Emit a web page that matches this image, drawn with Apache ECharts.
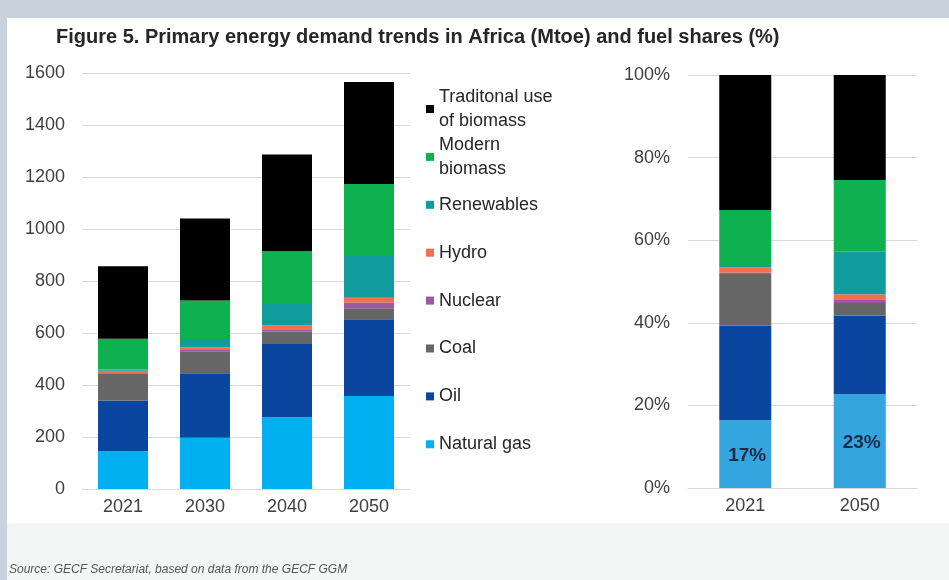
<!DOCTYPE html>
<html>
<head>
<meta charset="utf-8">
<script src="https://cdn.jsdelivr.net/npm/echarts@6/dist/echarts.min.js"></script>
<style>
html, body { margin: 0; padding: 0; background: #c8d2dc; }
#chart { width: 949px; height: 580px; }
</style>
</head>
<body>
<div id="chart"></div>
<script>
// categories
var years = ['2021', '2030', '2040', '2050'];
var shareYears = ['2021', '2050'];

// fuel names, top of stack first (legend order)
var fuels = ['Traditonal use of biomass', 'Modern biomass', 'Renewables', 'Hydro', 'Nuclear', 'Coal', 'Oil', 'Natural gas'];
var legendLabels = ['Traditonal use\nof biomass', 'Modern\nbiomass', 'Renewables', 'Hydro', 'Nuclear', 'Coal', 'Oil', 'Natural gas'];

// primary energy demand, Mtoe
var tradBiomass = [279, 315, 373, 392];
var modernBiomass = [118, 148, 202, 277];
var renewables = [5, 32, 83, 160];
var hydro = [9, 10, 15, 19];
var nuclear = [3, 5, 8, 22];
var coal = [103, 85, 48, 42];
var oil = [195, 248, 282, 295];
var naturalGas = [145, 197, 276, 358];

// fuel shares, %
var shareTrad = [32.7, 25.4];
var shareModern = [13.3, 17.4];
var shareRenew = [0.6, 10.3];
var shareHydro = [1.2, 1.2];
var shareNuclear = [0.4, 0.9];
var shareCoal = [12.5, 3.1];
var shareOil = [22.9, 19.0];
var shareGas = [16.4, 22.7];
var gasShareLabels = ['17%', '23%'];

var leftTicks = { min: 0, max: 1600, interval: 200 };
var rightTicks = { min: 0, max: 100, interval: 20 };

var colors = {
    'Traditonal use of biomass': '#000000',
    'Modern biomass': '#0fb050',
    'Renewables': '#109c9c',
    'Hydro': '#f2704f',
    'Nuclear': '#9a5aa0',
    'Coal': '#666666',
    'Oil': '#0a46a0',
    'Natural gas': '#00b0f0'
};

var mtoe = [tradBiomass, modernBiomass, renewables, hydro, nuclear, coal, oil, naturalGas];
var shares = [shareTrad, shareModern, shareRenew, shareHydro, shareNuclear, shareCoal, shareOil, shareGas];

var font = 'Liberation Sans, Arial, sans-serif';
var axisText = { fontSize: 18, color: '#404040', fontFamily: font };

var series = [];
// stack from the bottom: natural gas first
for (var i = fuels.length - 1; i >= 0; i--) {
    var name = fuels[i];
    series.push({
        name: name,
        type: 'bar',
        stack: 'mtoe',
        xAxisIndex: 0,
        yAxisIndex: 0,
        barWidth: 50,
        itemStyle: { color: colors[name] },
        data: mtoe[i]
    });
    var s = {
        name: name,
        type: 'bar',
        stack: 'share',
        xAxisIndex: 1,
        yAxisIndex: 1,
        barWidth: 52,
        itemStyle: { color: name === 'Natural gas' ? '#35a5df' : colors[name] },
        data: shares[i]
    };
    if (name === 'Natural gas') {
        s.label = {
            show: true,
            position: 'inside',
            offset: [2, 2],
            fontSize: 19,
            fontWeight: 'bold',
            color: '#1c2b47',
            fontFamily: font,
            formatter: function (p) { return gasShareLabels[p.dataIndex]; }
        };
    }
    series.push(s);
}

// one legend per entry so the two-line names keep an even step
var legends = [];
for (var j = 0; j < fuels.length; j++) {
    var twoLines = legendLabels[j].indexOf('\n') >= 0;
    var centre = 109 + j * 47.9;
    legends.push({
        data: [fuels[j]],
        left: 426,
        top: centre - (twoLines ? 36 : 12),
        padding: 0,
        itemWidth: 8,
        itemHeight: 8,
        icon: 'rect',
        selectedMode: false,
        formatter: (function (k) { return function () { return legendLabels[k]; }; })(j),
        textStyle: {
            fontSize: 18,
            lineHeight: 24,
            color: '#262626',
            fontFamily: font,
            padding: twoLines ? [24, 0, 0, 0] : 0
        }
    });
}

var chart = echarts.init(document.getElementById('chart'));
chart.setOption({
    backgroundColor: '#c8d2dc',
    animation: false,
    title: {
        text: 'Figure 5. Primary energy demand trends in Africa (Mtoe) and fuel shares (%)',
        left: 56,
        top: 27,
        padding: 0,
        textStyle: { fontSize: 20, fontWeight: 'bold', color: '#262626', fontFamily: font }
    },
    legend: legends,
    grid: [
        { left: 82, top: 73, width: 328, height: 416 },
        { left: 688, top: 75, width: 229, height: 413 }
    ],
    xAxis: [
        {
            type: 'category', gridIndex: 0, data: years,
            axisLine: { lineStyle: { color: '#d9d9d9' } },
            axisTick: { show: false },
            axisLabel: Object.assign({ margin: 9 }, axisText)
        },
        {
            type: 'category', gridIndex: 1, data: shareYears,
            axisLine: { lineStyle: { color: '#d9d9d9' } },
            axisTick: { show: false },
            axisLabel: Object.assign({ margin: 9 }, axisText)
        }
    ],
    yAxis: [
        {
            type: 'value', gridIndex: 0,
            min: leftTicks.min, max: leftTicks.max, interval: leftTicks.interval,
            axisLine: { show: false },
            splitLine: { lineStyle: { color: '#d9d9d9' } },
            axisLabel: Object.assign({ margin: 17, formatter: function (v) { return String(v); } }, axisText)
        },
        {
            type: 'value', gridIndex: 1,
            min: rightTicks.min, max: rightTicks.max, interval: rightTicks.interval,
            axisLine: { show: false },
            splitLine: { lineStyle: { color: '#d9d9d9' } },
            axisLabel: Object.assign({ margin: 18, formatter: '{value}%' }, axisText)
        }
    ],
    graphic: [
        { type: 'rect', z: -10, shape: { x: 7, y: 18, width: 942, height: 505 }, style: { fill: '#ffffff' } },
        { type: 'rect', z: -10, shape: { x: 7, y: 523, width: 942, height: 57 }, style: { fill: '#f4f5f5' } },
        {
            type: 'text', left: 9, top: 564,
            style: {
                text: 'Source: GECF Secretariat, based on data from the GECF GGM',
                fontSize: 12, fontStyle: 'italic', fill: '#555555',
                fontFamily: 'Liberation Sans Narrow, Liberation Sans, sans-serif'
            }
        }
    ],
    series: series
});
</script>
</body>
</html>
